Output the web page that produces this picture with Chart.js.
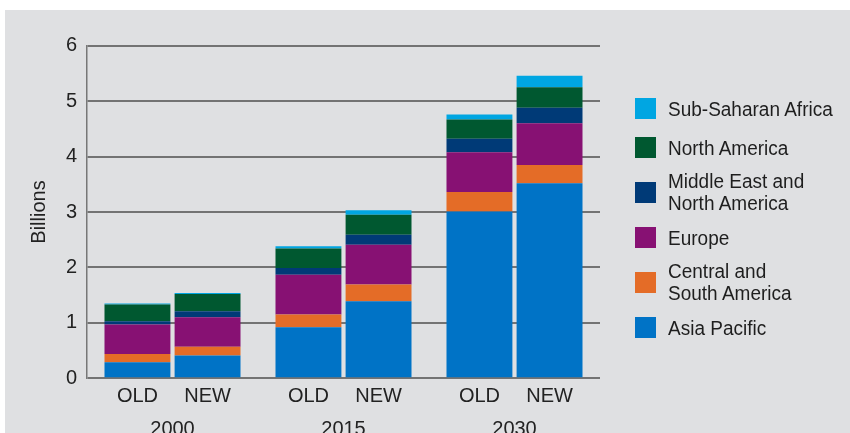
<!DOCTYPE html>
<html lang="en">

<head>
    <meta charset="UTF-8" />
    <title>World population by region, OLD vs NEW</title>
    <script src="https://cdn.jsdelivr.net/npm/chart.js"></script>
    <style>
        body { margin: 0; background: #fff; width: 850px; height: 433px; overflow: hidden; font-family: "Liberation Sans", Arial, sans-serif; }
        #panel { position: absolute; left: 5px; top: 10px; width: 845px; height: 423px; background: #dfe0e2; }
        #chart { position: absolute; left: 0; top: 0; }
        #legend { position: absolute; left: 630px; top: 83px; display: flex; flex-direction: column; gap: 9px; }
        .item { display: flex; align-items: center; min-height: 30px; }
        .swatch { width: 21px; height: 21px; margin-right: 12px; flex: none; }
        .text { font-size: 19px; line-height: 21px; color: #1e1e1e; white-space: pre-line; transform: scaleY(1.08); }
    </style>
</head>

<body>
    <div id="panel">
        <canvas id="chart" width="845" height="423"></canvas>
        <div id="legend"></div>
    </div>

    <script>
        const years = ["2000", "2015", "2030"];
        const stacks = ["OLD", "NEW"];
        const yTicks = [0, 1, 2, 3, 4, 5, 6];

        // bottom to top of each bar
        const regions = ["Asia Pacific", "Central and\nSouth America", "Europe", "Middle East and\nNorth America", "North America", "Sub-Saharan Africa"];
        const colors = ["#0073c6", "#e46c27", "#871173", "#003a77", "#005830", "#00a6e2"];

        const asiaOld = [0.29, 0.92, 3.01];
        const asiaNew = [0.41, 1.39, 3.52];
        const centralOld = [0.15, 0.23, 0.35];
        const centralNew = [0.16, 0.30, 0.33];
        const europeOld = [0.53, 0.72, 0.72];
        const europeNew = [0.53, 0.72, 0.75];
        const meOld = [0.06, 0.12, 0.24];
        const meNew = [0.11, 0.18, 0.28];
        const naOld = [0.30, 0.35, 0.35];
        const naNew = [0.31, 0.36, 0.37];
        const ssaOld = [0.02, 0.04, 0.09];
        const ssaNew = [0.02, 0.08, 0.21];

        const oldSeries = [asiaOld, centralOld, europeOld, meOld, naOld, ssaOld];
        const newSeries = [asiaNew, centralNew, europeNew, meNew, naNew, ssaNew];

        const font = '"Liberation Sans", Arial, sans-serif';
        Chart.defaults.font.family = font;
        Chart.defaults.color = "#222";

        const datasets = [];
        [oldSeries, newSeries].forEach((series, s) => {
            series.forEach((values, r) => {
                datasets.push({
                    label: regions[r],
                    data: values,
                    stack: stacks[s],
                    backgroundColor: colors[r],
                    borderWidth: 0,
                    categoryPercentage: 0.82,
                    barPercentage: 0.94
                });
            });
        });

        // OLD / NEW under every bar
        const stackLabels = {
            id: "stackLabels",
            afterDatasetsDraw(chart) {
                const ctx = chart.ctx;
                ctx.save();
                ctx.font = "20px " + font;
                ctx.fillStyle = "#222";
                ctx.textAlign = "center";
                ctx.textBaseline = "middle";
                stacks.forEach((name, s) => {
                    const meta = chart.getDatasetMeta(s * regions.length);
                    meta.data.forEach(bar => {
                        ctx.fillText(name, bar.x, chart.chartArea.bottom + 18);
                    });
                });
                ctx.restore();
            }
        };

        new Chart(document.getElementById("chart"), {
            type: "bar",
            data: { labels: years, datasets },
            options: {
                responsive: false,
                animation: false,
                layout: { padding: { top: 35.7, right: 250, bottom: 0, left: 0 } },
                plugins: { legend: { display: false }, tooltip: { enabled: false } },
                scales: {
                    x: {
                        stacked: true,
                        grid: { display: false },
                        border: { display: false },
                        ticks: { font: { size: 20 }, padding: 31, color: "#222" },
                        afterFit: scale => { scale.height = 54.7; }
                    },
                    y: {
                        stacked: true,
                        min: yTicks[0],
                        max: yTicks[yTicks.length - 1],
                        afterBuildTicks: scale => { scale.ticks = yTicks.map(v => ({ value: v })); },
                        grid: { color: "#737373", lineWidth: 2, drawTicks: false },
                        border: { display: true, color: "#777", width: 1.5 },
                        ticks: { font: { size: 20 }, padding: 10, color: "#222" },
                        title: { display: true, text: "Billions", font: { size: 20 }, color: "#222", padding: { top: 22, bottom: 0 } },
                        afterFit: scale => { scale.width = 82; }
                    }
                }
            },
            plugins: [stackLabels]
        });

        // legend, top of the stack first
        const legend = document.getElementById("legend");
        regions.slice().reverse().forEach((name, i) => {
            const item = document.createElement("div");
            item.className = "item";
            item.innerHTML = `<span class="swatch" style="background:${colors[regions.length - 1 - i]}"></span><span class="text">${name}</span>`;
            legend.appendChild(item);
        });
    </script>
</body>

</html>
